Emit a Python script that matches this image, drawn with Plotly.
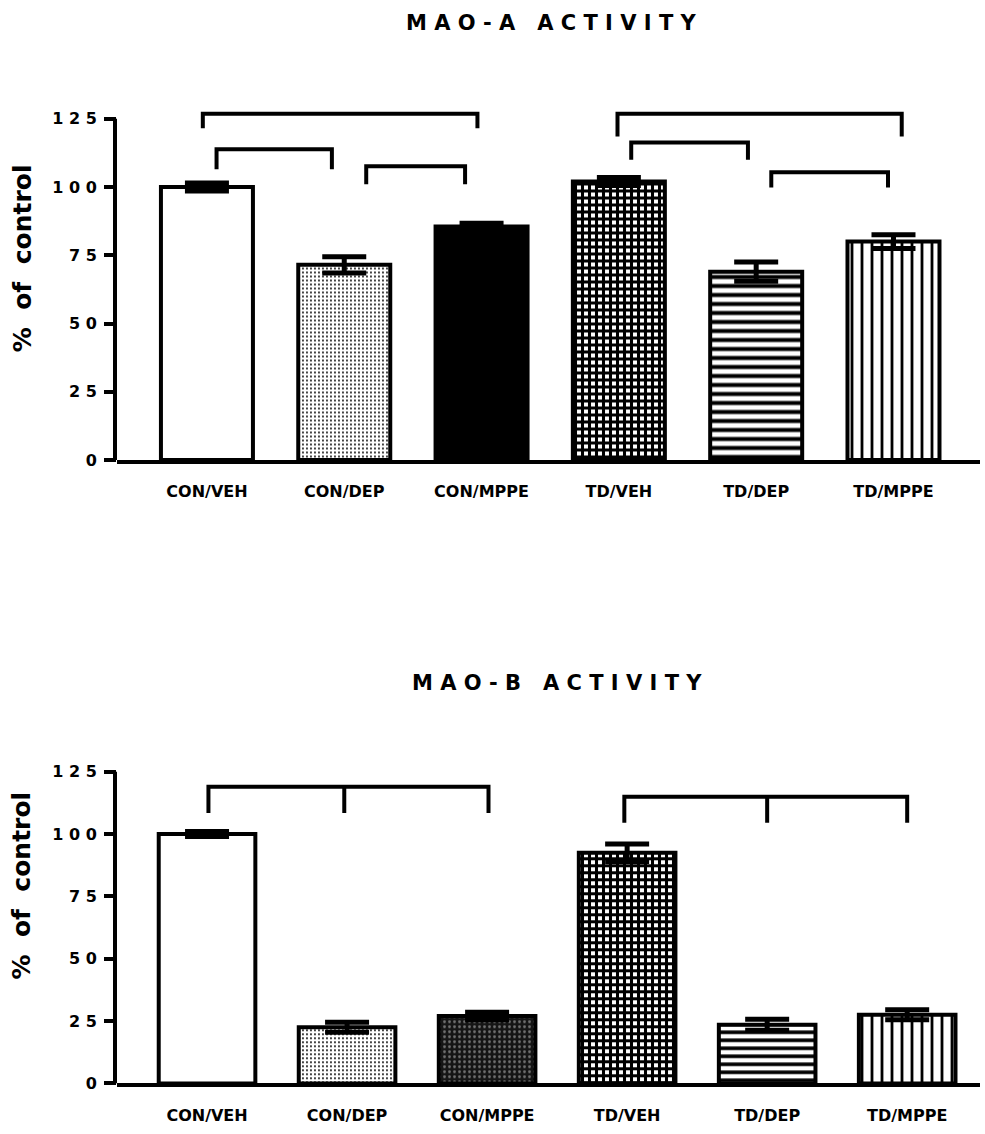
import plotly.graph_objects as go

categories = ["CON/VEH", "CON/DEP", "CON/MPPE", "TD/VEH", "TD/DEP", "TD/MPPE"]
mao_a_values = [100, 71.5, 85.5, 102, 69, 80]
mao_a_errors = [1.5, 3, 1.2, 1.5, 3.5, 2.5]
mao_b_values = [100, 22.5, 27, 92.5, 23.5, 27.5]
mao_b_errors = [1, 2, 1.5, 3.5, 2.2, 2]
ytick_values = [0, 25, 50, 75, 100, 125]
ytick_text = ["0", "2 5", "5 0", "7 5", "1 0 0", "1 2 5"]

# significance brackets: (x left, x right, top, leg bottom, extra middle legs)
brackets_a = [(-0.03, 1.97, 126.8, 121.5, []),
              (0.07, 0.91, 113.8, 106.5, []),
              (1.16, 1.88, 107.6, 101, []),
              (2.99, 5.06, 126.8, 118.5, []),
              (3.09, 3.94, 116.3, 110, []),
              (4.11, 4.96, 105.4, 99.8, [])]
brackets_b = [(0.01, 2.01, 119, 108.5, [0.98]),
              (2.98, 5.0, 115, 104.5, [4.0])]

pat_shape = ["", ".", "/", "+", "-", "|"]
pat_fg = ["black", "black", "black", "black", "black", "black"]
pat_bg = ["white", "white", "black", "white", "white", "white"]
pat_size = [6, 4, 6, 7, 9, 10]
pat_sol = [0.3, 0.18, 0.5, 0.68, 0.45, 0.28]

pat_shape_b = ["", ".", ".", "+", "-", "|"]
pat_fg_b = ["black", "black", "#707070", "black", "black", "black"]
pat_bg_b = ["white", "white", "#151515", "white", "white", "white"]
pat_size_b = [6, 4, 5, 7, 8, 10]
pat_sol_b = [0.3, 0.18, 0.25, 0.68, 0.45, 0.28]

fig = go.Figure()
xs = list(range(len(categories)))

def add_bars(values, errors, xa, ya, shp, fg, bg, sz, sol, width):
    fig.add_trace(go.Bar(
        x=xs, y=values, xaxis=xa, yaxis=ya, width=width,
        marker=dict(color="white", line=dict(color="black", width=4),
                    pattern=dict(shape=shp, fgcolor=fg, bgcolor=bg, size=sz,
                                 solidity=sol, fillmode="replace")),
        error_y=dict(type="data", array=errors, visible=True, color="black",
                     thickness=5, width=22),
        showlegend=False))

add_bars(mao_a_values, mao_a_errors, "x", "y", pat_shape, pat_fg, pat_bg, pat_size, pat_sol, 0.67)
add_bars(mao_b_values, mao_b_errors, "x2", "y2", pat_shape_b, pat_fg_b, pat_bg_b, pat_size_b, pat_sol_b, 0.69)

def add_brackets(brs, xa, ya):
    for (x0, x1, top, bot, mids) in brs:
        fig.add_trace(go.Scatter(x=[x0, x0, x1, x1], y=[bot, top, top, bot], xaxis=xa, yaxis=ya,
                                 mode="lines", line=dict(color="black", width=4),
                                 showlegend=False, hoverinfo="skip"))
        for m in mids:
            fig.add_trace(go.Scatter(x=[m, m], y=[top, bot], xaxis=xa, yaxis=ya,
                                     mode="lines", line=dict(color="black", width=4),
                                     showlegend=False, hoverinfo="skip"))

add_brackets(brackets_a, "x", "y")
add_brackets(brackets_b, "x2", "y2")

FONT = "DejaVu Sans"
xdom = [117 / 985, 980 / 985]
tickfont = dict(family=FONT, size=16, color="black")
labfont = dict(family=FONT, size=16, color="black")

common_x = dict(showgrid=False, zeroline=False, showline=True, linecolor="black", linewidth=4,
                tickmode="array", tickvals=xs, ticktext=["<b>%s</b>" % c for c in categories],
                ticks="", tickfont=labfont, ticklabelstandoff=14, fixedrange=True)
common_y = dict(showgrid=False, zeroline=False, showline=False, ticks="outside", ticklen=12,
                tickwidth=4, tickcolor="black", tickmode="array", tickvals=ytick_values,
                ticktext=["<b>%s</b>" % t for t in ytick_text], tickfont=tickfont,
                ticklabelstandoff=4, fixedrange=True)

fig.update_layout(
    width=985, height=1134, margin=dict(l=0, r=0, t=0, b=0),
    paper_bgcolor="white", plot_bgcolor="white", showlegend=False,
    xaxis=dict(domain=xdom, range=[-0.655, 5.63], anchor="y", **common_x),
    yaxis=dict(domain=[0.5917, 0.9033], range=[0, 128], anchor="x", **common_y),
    xaxis2=dict(domain=xdom, range=[-0.643, 5.52], anchor="y2", **common_x),
    yaxis2=dict(domain=[0.0362, 0.3206], range=[0, 128], anchor="x2", **common_y),
)

# y axis lines (only up to 125)
for yr in ("y", "y2"):
    fig.add_shape(type="line", xref="paper", yref=yr, x0=xdom[0] - 2 / 985, x1=xdom[0] - 2 / 985,
                  y0=0, y1=125, line=dict(color="black", width=4))

titlefont = dict(family=FONT, size=21, color="black")
fig.add_annotation(text="<b>M A O - A   A C T I V I T Y</b>", xref="paper", yref="paper",
                   x=551 / 985, y=1 - 21 / 1134, xanchor="center", yanchor="middle",
                   showarrow=False, font=titlefont)
fig.add_annotation(text="<b>M A O - B   A C T I V I T Y</b>", xref="paper", yref="paper",
                   x=557 / 985, y=1 - 688 / 1134, xanchor="center", yanchor="middle",
                   showarrow=False, font=titlefont)
yfont = dict(family=FONT, size=25, color="black")
fig.add_annotation(text="<b>%  of  control</b>", xref="paper", yref="paper", textangle=-90,
                   x=22 / 985, y=1 - 259 / 1134, xanchor="center", yanchor="middle",
                   showarrow=False, font=yfont)
fig.add_annotation(text="<b>%  of  control</b>", xref="paper", yref="paper", textangle=-90,
                   x=22 / 985, y=1 - 893 / 1134, xanchor="center", yanchor="middle",
                   showarrow=False, font=yfont)

fig.write_html("out.html")
